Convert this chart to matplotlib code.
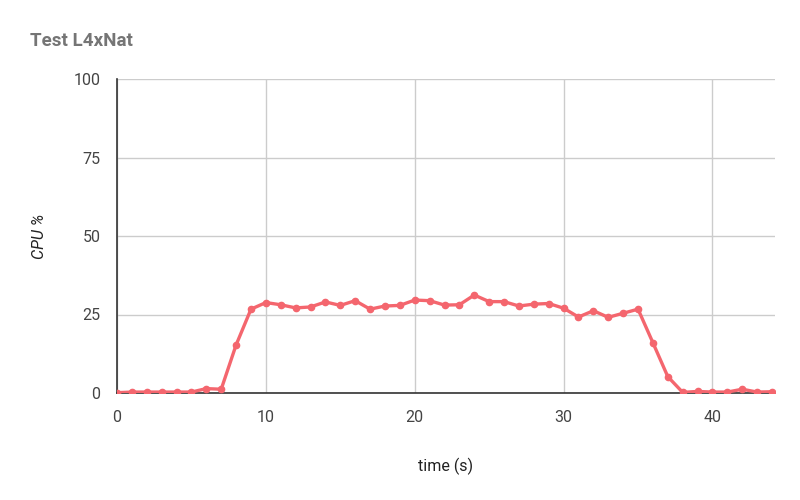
import matplotlib
matplotlib.use("Agg")
import matplotlib.pyplot as plt

# CPU usage per second
seconds = list(range(45))
cpu_pct = [0.1, 0.3, 0.3, 0.3, 0.3, 0.3, 1.4, 1.2, 15.3, 26.7,
           28.8, 28.1, 27.1, 27.4, 29.0, 27.9, 29.4, 26.7, 27.7, 27.9,
           29.6, 29.4, 28.0, 28.1, 31.2, 29.1, 29.1, 27.7, 28.3, 28.5,
           27.0, 24.2, 26.2, 24.1, 25.4, 26.7, 16.0, 5.2, 0.2, 0.5,
           0.3, 0.3, 1.2, 0.3, 0.4]
y_ticks = [0, 25, 50, 75, 100]
x_ticks = [0, 10, 20, 30, 40]

plt.rcParams["font.family"] = ["Roboto", "DejaVu Sans"]

fig = plt.figure(figsize=(8, 5), dpi=100)
ax = fig.add_axes([0.14625, 0.214, 0.8225, 0.628])

ax.plot(seconds, cpu_pct, color="#f4666e", linewidth=2.4,
        marker="o", markersize=4.5, solid_joinstyle="round", zorder=3)

ax.set_xlim(0, 44.2)
ax.set_ylim(0, 100)
ax.set_yticks(y_ticks)
ax.set_xticks(x_ticks)
ax.grid(True, color="#cccccc", linewidth=1)
ax.set_axisbelow(True)

for side in ["top", "right"]:
    ax.spines[side].set_visible(False)
ax.spines["left"].set_color("#333333")
ax.spines["bottom"].set_color("#333333")
ax.spines["left"].set_linewidth(1.2)
ax.spines["bottom"].set_linewidth(1.2)
ax.tick_params(length=0, labelsize=11.5, labelcolor="#444444", pad=12)

ax.set_xlabel("time (s)", fontsize=11.5, color="#222222", labelpad=24)
ax.set_ylabel("CPU %", fontsize=11.5, color="#222222", style="italic", labelpad=19)

fig.text(0.038, 0.918, "Test L4xNat", fontsize=13.5, fontweight="bold",
         color="#757575", ha="left", va="center")

fig.savefig("out.png", dpi=100, facecolor="white")
